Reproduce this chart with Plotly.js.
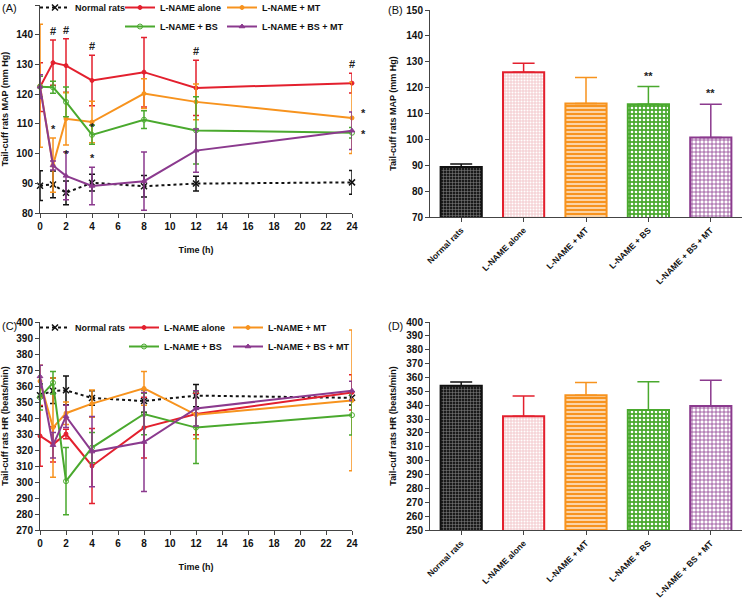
<!DOCTYPE html>
<html>
<head>
<meta charset="utf-8">
<script src="https://cdn.plot.ly/plotly-3.0.1.min.js"></script>
<style>html,body{margin:0;padding:0;background:#fff}#chart{width:745px;height:600px}</style>
</head>
<body>
<div id="chart"></div>
<script>
// ---------- DATA ----------
const times = [0, 1, 2, 4, 8, 12, 24];
const seriesNames = ['Normal rats', 'L-NAME alone', 'L-NAME + MT', 'L-NAME + BS', 'L-NAME + BS + MT'];
const categories = ['Normal rats', 'L-NAME alone', 'L-NAME + MT', 'L-NAME + BS', 'L-NAME + BS + MT'];

// (A) MAP over time (mm Hg): mean and SD
const mapNormal    = [89.2, 89.6, 86.8, 90.2, 89.0, 89.9, 90.3];
const mapNormalErr = [5.0, 4.5, 4.0, 2.8, 3.6, 2.5, 4.0];
const mapAlone     = [122.4, 130.6, 129.6, 124.6, 127.4, 122.1, 123.7];
const mapAloneErr  = [8.2, 7.6, 9.0, 8.5, 11.7, 9.3, 3.3];
const mapMT        = [122.8, 96.1, 111.7, 110.6, 120.2, 117.4, 112.0];
const mapMTErr     = [20.7, 9.1, 8.8, 7.0, 5.0, 6.0, 12.0];
const mapBS        = [122.5, 122.3, 117.4, 106.3, 111.4, 107.8, 107.0];
const mapBSErr     = [3.5, 2.0, 5.0, 3.2, 3.0, 11.3, 1.8];
const mapBSMT      = [122.5, 96.0, 92.5, 89.1, 90.7, 101.0, 107.7];
const mapBSMTErr   = [4.0, 1.5, 8.0, 6.3, 9.8, 7.3, 6.3];

// (B) mean MAP (mm Hg)
const mapBar    = [89.3, 125.9, 113.9, 113.6, 100.7];
const mapBarErr = [1.2, 3.5, 10.0, 6.8, 12.9];

// (C) HR over time (beats/min)
const hrNormal    = [354.2, 357.0, 357.3, 352.5, 350.6, 354.0, 352.6];
const hrNormalErr = [7.0, 8.0, 9.0, 4.5, 7.0, 7.0, 4.5];
const hrAlone     = [328.8, 323.5, 330.0, 310.0, 334.0, 342.5, 356.0];
const hrAloneErr  = [19.0, 11.0, 3.0, 23.5, 19.0, 13.0, 11.0];
const hrMT        = [363.0, 334.0, 343.0, 349.0, 358.5, 342.0, 351.0];
const hrMTErr     = [10.0, 31.0, 7.0, 8.5, 10.5, 15.0, 44.0];
const hrBS        = [353.0, 362.0, 300.5, 321.5, 342.5, 334.0, 341.8];
const hrBSErr     = [8.0, 7.0, 21.0, 9.5, 13.0, 22.5, 12.5];
const hrBSMT      = [366.0, 323.0, 341.0, 319.0, 325.0, 346.0, 357.0];
const hrBSMTErr   = [7.0, 8.0, 7.0, 22.0, 31.0, 11.0, 6.0];

// (D) mean HR (beats/min)
const hrBar    = [354.0, 332.0, 347.2, 336.6, 339.5];
const hrBarErr = [2.8, 14.7, 9.1, 20.4, 18.5];

// significance marks: [series index, time index, symbol, placement]
const sigMap = [
  [1, 1, '#', 'above'], [1, 2, '#', 'above'], [1, 3, '#', 'above'], [1, 5, '#', 'above'], [1, 6, '#', 'above'],
  [2, 1, '*', 'above'], [4, 2, '*', 'on'], [3, 3, '*', 'on'], [4, 3, '*', 'above'],
  [2, 6, '*', 'rightUp'], [4, 6, '*', 'rightDown']
];
const sigMapBar = [[3, '**'], [4, '**']];

// ---------- STYLE ----------
const FONT = 'Liberation Sans, Arial, sans-serif';
const colors = ['#111111', '#e3202e', '#f7931e', '#4aa92e', '#8b3a8e'];
const symbols = ['x-thin-open', 'circle', 'circle', 'circle-open', 'triangle-up'];
const msizes = [6, 4, 4, 5, 5];
const patterns = [
  {shape: '+', bgcolor: '#1a1a1a', fgcolor: '#8a8a8a', size: 3, solidity: 0.3},
  {shape: '.', bgcolor: '#f6d3d6', fgcolor: '#ffffff', size: 3, solidity: 0.35},
  {shape: '-', bgcolor: '#f7931e', fgcolor: '#ffffff', size: 4, solidity: 0.3},
  {shape: '.', bgcolor: '#4aa92e', fgcolor: '#ffffff', size: 4, solidity: 0.35},
  {shape: '+', bgcolor: '#ffffff', fgcolor: '#8b3a8e', size: 4, solidity: 0.35}
];
const W = 745, H = 600;
const px = v => v / W, py = v => 1 - v / H;

const mapMeans = [mapNormal, mapAlone, mapMT, mapBS, mapBSMT];
const mapErrs = [mapNormalErr, mapAloneErr, mapMTErr, mapBSErr, mapBSMTErr];
const hrMeans = [hrNormal, hrAlone, hrMT, hrBS, hrBSMT];
const hrErrs = [hrNormalErr, hrAloneErr, hrMTErr, hrBSErr, hrBSMTErr];

const legA = ['legend', 'legend2', 'legend3', 'legend2', 'legend3'];
const legC = ['legend4', 'legend5', 'legend6', 'legend5', 'legend6'];

const traces = [];
function lineTraces(means, errs, xa, ya, legs) {
  for (let k = 0; k < 5; k++) {
    traces.push({
      type: 'scatter', mode: 'lines+markers', name: seriesNames[k],
      x: times, y: means[k], xaxis: xa, yaxis: ya, legend: legs[k],
      cliponaxis: false,
      line: {color: colors[k], width: 2, dash: k === 0 ? 'dot' : 'solid'},
      marker: {symbol: symbols[k], size: msizes[k], color: colors[k], line: {color: colors[k], width: k === 0 ? 1.5 : 1}},
      error_y: {type: 'data', array: errs[k], visible: true, color: colors[k], thickness: 1.5, width: 3}
    });
  }
}
lineTraces(mapMeans, mapErrs, 'x', 'y', legA);
lineTraces(hrMeans, hrErrs, 'x3', 'y3', legC);

function barTraces(vals, errs, xa, ya) {
  for (let k = 0; k < 5; k++) {
    traces.push({
      type: 'bar', x: [categories[k]], y: [vals[k]], xaxis: xa, yaxis: ya, width: 0.66,
      showlegend: false,
      marker: {color: patterns[k].bgcolor, pattern: Object.assign({fillmode: 'replace'}, patterns[k]),
               line: {color: colors[k], width: 2}},
      error_y: {type: 'data', symmetric: false, array: [errs[k]], arrayminus: [0], visible: true,
                color: colors[k], thickness: 1.5, width: 11}
    });
  }
}
barTraces(mapBar, mapBarErr, 'x2', 'y2');
barTraces(hrBar, hrBarErr, 'x4', 'y4');

// ---------- LAYOUT ----------
const tickFont = {family: FONT, size: 10, color: '#111', weight: 'bold'};
const catFont = {family: FONT, size: 8.5, color: '#111', weight: 'bold'};
const titleFont = {family: FONT, size: 9, color: '#111', weight: 'bold'};
function axisBase(extra) {
  return Object.assign({
    showgrid: false, zeroline: false, showline: true, linecolor: '#444', linewidth: 1,
    ticks: 'outside', ticklen: 4, tickwidth: 1, tickcolor: '#444', tickfont: tickFont
  }, extra);
}

const annotations = [];
sigMap.forEach(([s, i, sym, where]) => {
  const a = {xref: 'x', yref: 'y', x: times[i], showarrow: false, text: sym,
             font: {family: FONT, size: 11, color: '#222', weight: 'bold'}};
  if (where === 'rightUp') { a.y = mapMeans[s][i]; a.xshift = 11; a.yshift = 5; }
  else if (where === 'rightDown') { a.y = mapMeans[s][i]; a.xshift = 11; a.yshift = -3; }
  else if (where === 'on') { a.y = mapMeans[s][i] + mapErrs[s][i]; a.yshift = -2; }
  else { a.y = mapMeans[s][i] + mapErrs[s][i]; a.yshift = 9; }
  annotations.push(a);
});
sigMapBar.forEach(([k, sym]) => {
  annotations.push({xref: 'x2', yref: 'y2', x: categories[k], y: mapBar[k] + mapBarErr[k], yshift: 11,
    showarrow: false, text: sym, font: {family: FONT, size: 11, color: '#222', weight: 'bold'}});
});
[['(A)', 0, 8], ['(B)', 386, 10], ['(C)', 0, 326], ['(D)', 386, 326]].forEach(([t, x, y]) => {
  annotations.push({xref: 'paper', yref: 'paper', x: px(x), y: py(y), xanchor: 'left', yanchor: 'middle',
    showarrow: false, text: t, font: {family: FONT, size: 11, color: '#111'}});
});

const legFont = {family: FONT, size: 9, color: '#111', weight: 'bold'};
function leg(x, y) {
  return {x: px(x), y: py(y), xanchor: 'left', yanchor: 'top', orientation: 'v', font: legFont,
          bgcolor: 'rgba(0,0,0,0)', borderwidth: 0, itemwidth: 30, tracegroupgap: 0};
}

const layout = {
  width: W, height: H, margin: {l: 0, r: 0, t: 0, b: 0, autoexpand: false},
  paper_bgcolor: '#fff', plot_bgcolor: 'rgba(0,0,0,0)',
  showlegend: true, barmode: 'overlay',
  font: {family: FONT},
  legend: leg(35, -7), legend2: leg(120, -7), legend3: leg(222, -7),
  legend4: leg(35, 313), legend5: leg(124, 313), legend6: leg(228, 313),
  xaxis: axisBase({domain: [px(40), px(352)], anchor: 'y', range: [0, 24], dtick: 2,
    title: {text: 'Time (h)', font: titleFont, standoff: 15}}),
  yaxis: axisBase({domain: [py(213), py(5)], anchor: 'x', range: [80, 150], dtick: 10,
    title: {text: 'Tail-cuff rats MAP (mm Hg)', font: titleFont, standoff: 8}}),
  xaxis2: axisBase({domain: [px(430), px(742)], anchor: 'y2', type: 'category', range: [-0.5, 4.5],
    tickangle: -45, ticklen: 4, tickfont: catFont}),
  yaxis2: axisBase({domain: [py(217), py(10)], anchor: 'x2', range: [70, 150], dtick: 10,
    title: {text: 'Tail-cuff rats MAP (mm Hg)', font: titleFont, standoff: 8}}),
  xaxis3: axisBase({domain: [px(40), px(352)], anchor: 'y3', range: [0, 24], dtick: 2,
    title: {text: 'Time (h)', font: titleFont, standoff: 15}}),
  yaxis3: axisBase({domain: [py(530), py(322)], anchor: 'x3', range: [270, 400], dtick: 10,
    title: {text: 'Tail-cuff rats HR (beats/min)', font: titleFont, standoff: 8}}),
  xaxis4: axisBase({domain: [px(430), px(742)], anchor: 'y4', type: 'category', range: [-0.5, 4.5],
    tickangle: -45, ticklen: 4, tickfont: catFont}),
  yaxis4: axisBase({domain: [py(530), py(322)], anchor: 'x4', range: [250, 400], dtick: 10,
    title: {text: 'Tail-cuff rats HR (beats/min)', font: titleFont, standoff: 8}}),
  annotations: annotations
};

Plotly.newPlot('chart', traces, layout, {displayModeBar: false, staticPlot: true});
</script>
</body>
</html>
